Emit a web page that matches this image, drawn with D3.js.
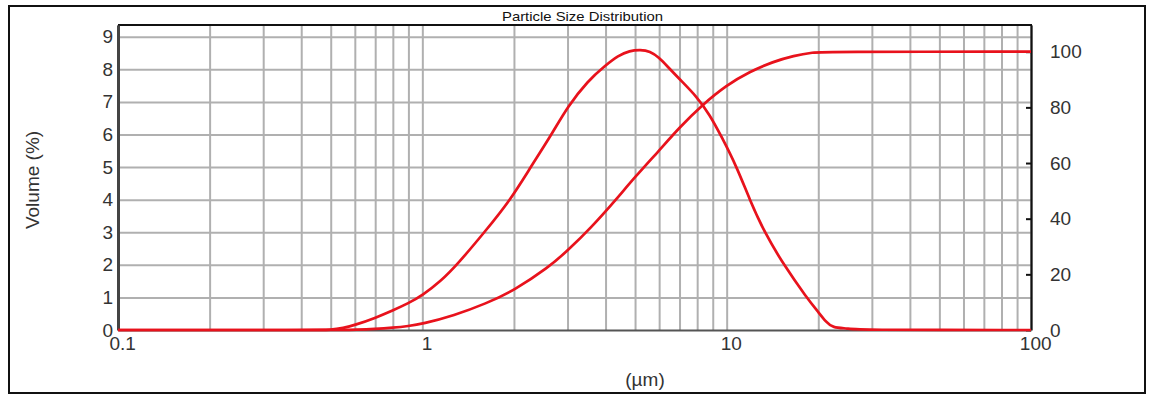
<!DOCTYPE html>
<html>
<head>
<meta charset="utf-8">
<script src="https://cdn.jsdelivr.net/npm/d3@7"></script>
<style>
  html, body { margin: 0; padding: 0; background: #fff; }
  svg { display: block; font-family: "Liberation Sans", Arial, sans-serif; }
</style>
</head>
<body>
<svg id="chart" width="1150" height="396"></svg>
<script>
// Particle size (µm) and volume density (%) of the frequency curve
const freqSizes = [0.1, 0.45, 0.5, 0.55, 0.6, 0.7, 0.8, 0.9, 1.0, 1.15, 1.3, 1.6, 1.95, 2.27, 2.66, 3.0, 3.5, 4.0, 4.4, 4.8, 5.2, 5.6, 6.0, 6.4, 7.0, 8.0, 8.8, 9.6, 10.8, 11.9, 13.3, 15.4, 18.3, 20.0, 21.2, 22.2, 25.3, 26.0, 100];
const freqValues = [0, 0, 0, 0.06, 0.15, 0.37, 0.6, 0.82, 1.06, 1.5, 2.0, 3.0, 4.0, 5.0, 6.0, 6.85, 7.65, 8.12, 8.42, 8.57, 8.6, 8.56, 8.36, 8.08, 7.7, 7.15, 6.6, 5.95, 5.0, 4.0, 3.0, 2.0, 1.0, 0.55, 0.25, 0.07, 0.05, 0, 0];

// Particle size (µm) and cumulative volume (%) of the undersize curve
const cumSizes = [0.1, 0.5, 0.55, 0.6, 0.7, 0.8, 0.9, 1.0, 1.27, 1.62, 2.0, 2.6, 3.0, 3.6, 4.3, 5.0, 6.0, 7.0, 8.3, 10, 11.9, 14.2, 16.6, 19.3, 21, 100];
const cumValues = [0, 0, 0, 0.1, 0.36, 0.8, 1.4, 2.2, 5.2, 9.5, 14.2, 22.5, 28.5, 37.0, 46.5, 55.0, 64.5, 72.8, 80.8, 88, 92.8, 96.4, 98.6, 99.8, 100, 100];

// Axis ticks
const xTickLabels = [0.1, 1, 10, 100];
const leftTicks = [0, 1, 2, 3, 4, 5, 6, 7, 8, 9];
const rightTicks = [0, 20, 40, 60, 80, 100];

const title = "Particle Size Distribution";
const xTitle = "(µm)";
const yTitle = "Volume (%)";

const svg = d3.select("#chart");
const plot = { left: 118, right: 1031, top: 25, bottom: 330 };

const x = d3.scaleLog().domain([0.1, 100]).range([plot.left, plot.right]);
const yL = d3.scaleLinear().domain([0, 9.36]).range([plot.bottom, plot.top]);
const yR = d3.scaleLinear().domain([0, 109.6]).range([plot.bottom, plot.top]);

// outer frame
svg.append("rect")
  .attr("x", 9).attr("y", 6).attr("width", 1136).attr("height", 387)
  .attr("fill", "#fff").attr("stroke", "#111").attr("stroke-width", 2);

// vertical grid at every log minor step
const minor = [];
for (let d = 0.1; d < 100; d *= 10) {
  for (let m = 1; m <= 9; m++) minor.push(+(d * m).toPrecision(3));
}
minor.push(100);

const grid = svg.append("g").attr("class", "grid");
grid.append("g")
  .attr("transform", `translate(0,${plot.bottom})`)
  .call(d3.axisBottom(x).tickValues(minor).tickSize(-(plot.bottom - plot.top)).tickFormat(""))
  .call(g => g.select(".domain").remove())
  .call(g => g.selectAll("line").attr("stroke", "#b0b0b0").attr("stroke-width", 2));

grid.append("g")
  .attr("transform", `translate(${plot.left},0)`)
  .call(d3.axisLeft(yL).tickValues(leftTicks.slice(1)).tickSize(-(plot.right - plot.left)).tickFormat(""))
  .call(g => g.select(".domain").remove())
  .call(g => g.selectAll("line").attr("stroke", "#b0b0b0").attr("stroke-width", 2));

// plot border: top edge
svg.append("line").attr("x1", plot.left).attr("x2", plot.right + 1)
  .attr("y1", plot.top).attr("y2", plot.top).attr("stroke", "#111").attr("stroke-width", 2.2);

// left axis
const leftAxis = svg.append("g")
  .attr("transform", `translate(${plot.left},0)`)
  .call(d3.axisLeft(yL).tickValues(leftTicks).tickSize(0).tickPadding(5).tickFormat(d3.format("d")));
leftAxis.select(".domain").attr("stroke", "#444").attr("stroke-width", 3);
leftAxis.selectAll("text").attr("font-size", 19).attr("fill", "#333")
  .attr("font-family", "Liberation Sans, Arial, sans-serif");

// right axis with short inward ticks
const rightAxis = svg.append("g")
  .attr("transform", `translate(${plot.right},0)`)
  .call(d3.axisRight(yR).tickValues(rightTicks).tickSizeInner(-5).tickSizeOuter(0).tickPadding(19).tickFormat(d3.format("d")));
rightAxis.select(".domain").attr("stroke", "#111").attr("stroke-width", 2.2);
rightAxis.selectAll("line").attr("stroke", "#111").attr("stroke-width", 2);
rightAxis.selectAll("text").attr("font-size", 19).attr("fill", "#333")
  .attr("font-family", "Liberation Sans, Arial, sans-serif");

// bottom axis
const bottomAxis = svg.append("g")
  .attr("transform", `translate(0,${plot.bottom})`)
  .call(d3.axisBottom(x).tickValues(xTickLabels).tickSize(0).tickPadding(7).tickFormat(d => String(d)));
bottomAxis.select(".domain").attr("stroke", "#555").attr("stroke-width", 2.2);
bottomAxis.selectAll("text").attr("font-size", 19).attr("fill", "#333").attr("dx", "0.22em")
  .attr("font-family", "Liberation Sans, Arial, sans-serif");

// curves
const freqData = freqSizes.map((s, i) => [s, freqValues[i]]);
const cumData = cumSizes.map((s, i) => [s, cumValues[i]]);

const lineL = d3.line().x(d => x(d[0])).y(d => yL(d[1])).curve(d3.curveBasis);
const lineR = d3.line().x(d => x(d[0])).y(d => yR(d[1])).curve(d3.curveBasis);

svg.append("path").datum(cumData).attr("d", lineR)
  .attr("fill", "none").attr("stroke", "#e8121c").attr("stroke-width", 2.7)
  .attr("stroke-linejoin", "round");
svg.append("path").datum(freqData).attr("d", lineL)
  .attr("fill", "none").attr("stroke", "#e8121c").attr("stroke-width", 2.7)
  .attr("stroke-linejoin", "round");

// titles
svg.append("text")
  .attr("x", 502).attr("y", 21)
  .attr("textLength", 161).attr("lengthAdjust", "spacingAndGlyphs")
  .attr("font-size", 13).attr("fill", "#111")
  .attr("font-family", "Liberation Sans Narrow, Liberation Sans, Arial, sans-serif")
  .text(title);

svg.append("text")
  .attr("x", 645).attr("y", 386)
  .attr("text-anchor", "middle")
  .attr("font-size", 19).attr("fill", "#333")
  .text(xTitle);

svg.append("text")
  .attr("transform", `translate(39,180) rotate(-90)`)
  .attr("text-anchor", "middle")
  .attr("font-size", 19).attr("fill", "#333")
  .text(yTitle);
</script>
</body>
</html>
